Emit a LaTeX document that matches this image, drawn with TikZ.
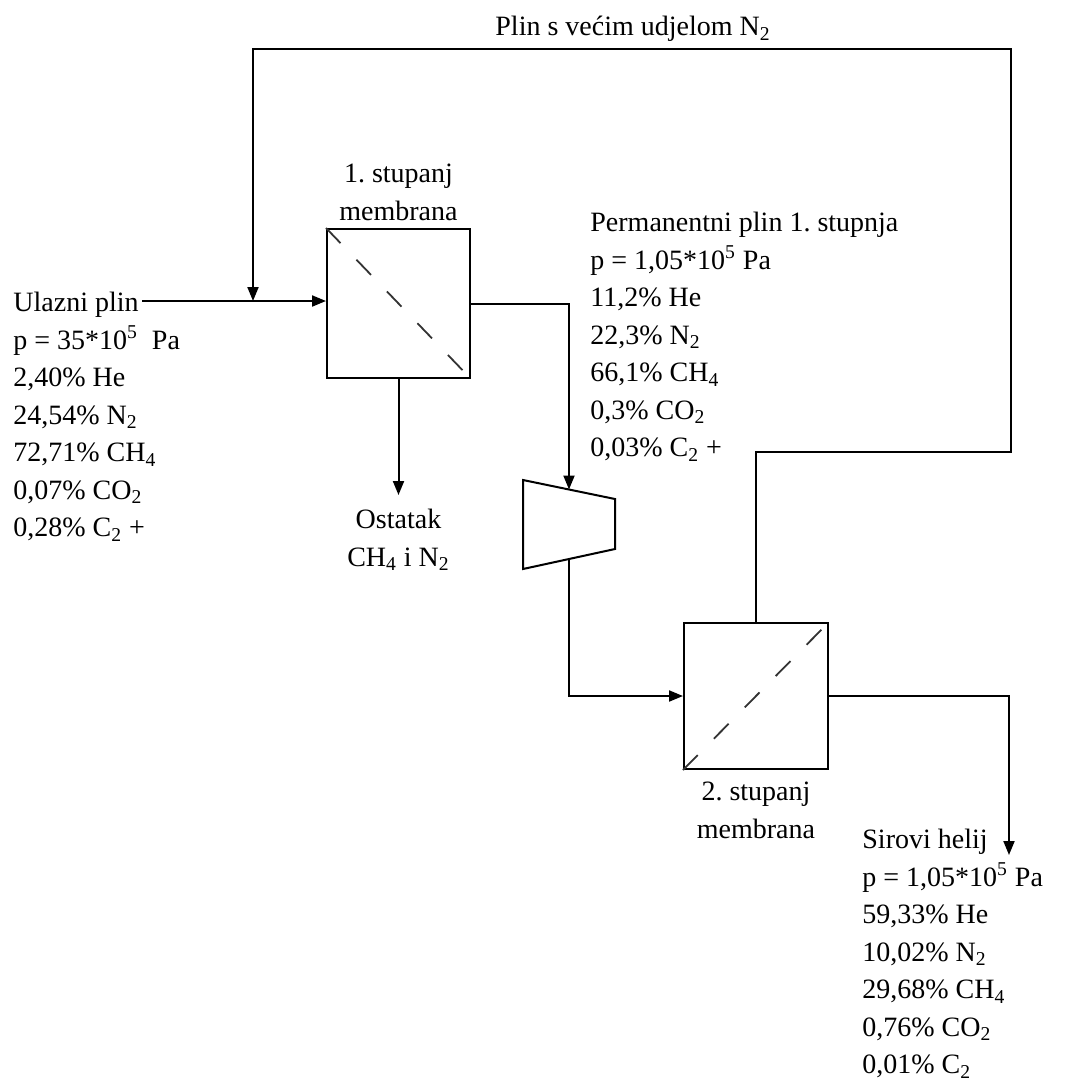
\documentclass[tikz,border=0pt]{standalone}
\usepackage{fontspec}
\setmainfont{Liberation Serif}
\usetikzlibrary{arrows.meta, positioning}
\frenchspacing

\begin{document}
\begin{tikzpicture}[x=0.5pt, y=-0.5pt, >={Triangle[length=7pt,width=5.5pt]},
    membrane/.style={draw, line width=1pt, minimum width=71.5pt, minimum height=74.5pt, inner sep=0pt},
    flow/.style={->, line width=1pt},
    sieve/.style={line width=0.9pt, black!80, dash pattern=on 10.5pt off 11.5pt},
    stream/.style={align=left, inner sep=0pt, anchor=north west, font=\fontsize{14}{18.75}\selectfont},
    caption/.style={align=center, inner sep=0pt, font=\fontsize{14}{18.75}\selectfont}]

    \useasboundingbox (0,0) rectangle (1075,1083);

    % Membrane stages
    \node[membrane] (stage1) at (398.5,303.5) {};
    \draw[sieve] (stage1.north west) -- (stage1.south east);
    \node[caption, above=3.5pt of stage1] (stage1label) {1. stupanj\\membrana};

    \node[membrane, minimum width=72pt, minimum height=73pt] (stage2) at (756,696) {};
    \draw[sieve] (stage2.south west) -- (stage2.north east);
    \node[caption, below=6pt of stage2] (stage2label) {2. stupanj\\membrana};

    % Compressor
    \draw[line width=1pt] (523,480) -- (615,499) -- (615,549) -- (523,569) -- cycle;
    \coordinate (compin) at (569,489.5);
    \coordinate (compout) at (569,559);

    % Streams
    \node[stream] (feed) at (13,292) {Ulazni plin\\p = 35*10\textsuperscript{5}\ \ Pa\\2,40\% He\\24,54\% N\textsubscript{2}\\72,71\% CH\textsubscript{4}\\0,07\% CO\textsubscript{2}\\0,28\% C\textsubscript{2} +};
    \node[stream] (permeate) at (590,212) {Permanentni plin 1. stupnja\\p = 1,05*10\textsuperscript{5} Pa\\11,2\% He\\22,3\% N\textsubscript{2}\\66,1\% CH\textsubscript{4}\\0,3\% CO\textsubscript{2}\\0,03\% C\textsubscript{2} +};
    \node[stream] (helium) at (862,829) {Sirovi helij\\p = 1,05*10\textsuperscript{5} Pa\\59,33\% He\\10,02\% N\textsubscript{2}\\29,68\% CH\textsubscript{4}\\0,76\% CO\textsubscript{2}\\0,01\% C\textsubscript{2}};
    \node[stream] (recycle) at (495,16) {Plin s većim udjelom N\textsubscript{2}};
    \node[caption, below=65pt of stage1] (residue) {Ostatak\\CH\textsubscript{4} i N\textsubscript{2}};

    \coordinate (inlet) at (142,301);
    \coordinate (mix) at (253,301);
    \coordinate (heout) at (1009,855);

    % Connections
    \draw[flow] (inlet) -- (inlet -| stage1.west);
    \draw[flow] (stage2.north) -- ++(0,-170) -| (1011,49) -| (mix);
    \draw[flow] (stage1.east) -| (compin);
    \draw[flow, shorten >=7pt] (stage1.south) -- (residue.north);
    \draw[flow] (compout) |- (stage2.west);
    \draw[flow] (stage2.east) -| (heout);

\end{tikzpicture}
\end{document}
